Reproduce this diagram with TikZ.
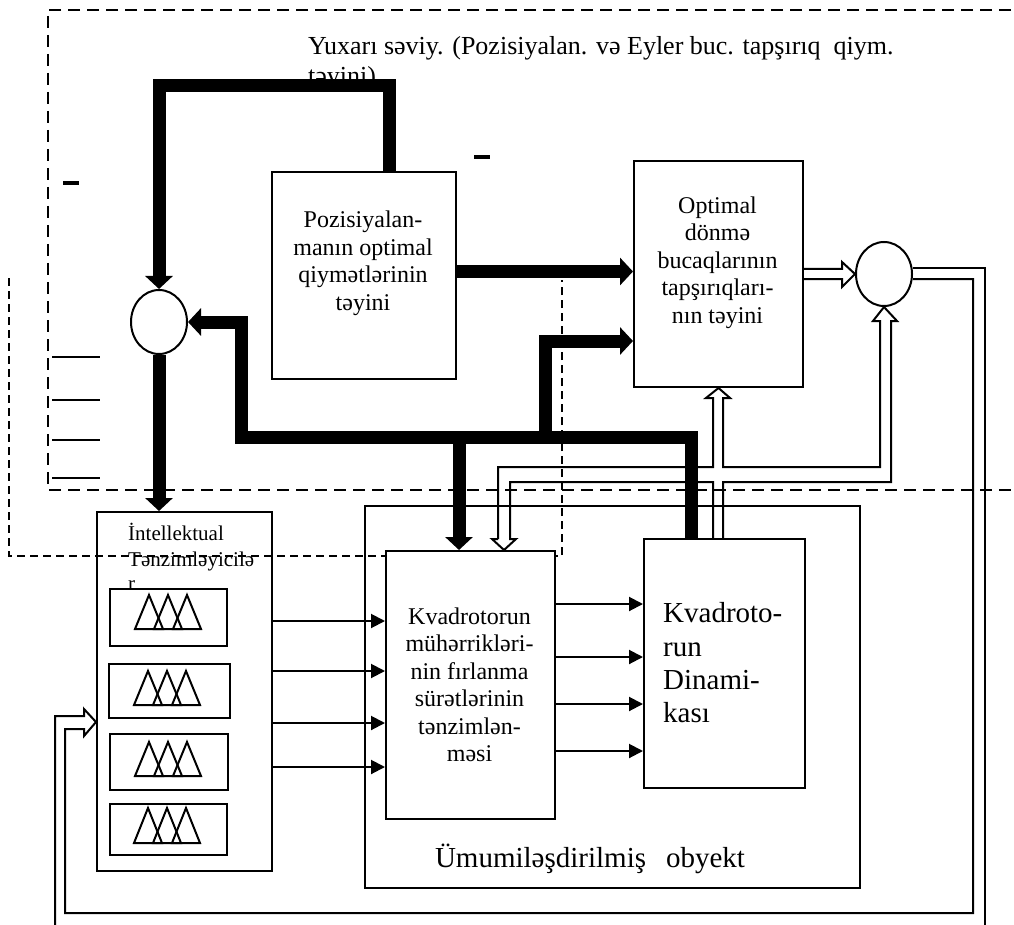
\documentclass[tikz,border=0pt]{standalone}
\usepackage{fontspec}
\setmainfont{Liberation Serif}
\usetikzlibrary{arrows.meta,shapes.geometric}
\begin{document}
\begin{tikzpicture}[x=1pt,y=-1pt,
  box/.style={draw,line width=2pt,inner sep=0pt,anchor=north west},
  wbox/.style={box,fill=white},
  lbl/.style={inner sep=0pt,align=center,font=\fontsize{24}{27.5}\selectfont},
  biglbl/.style={inner sep=0pt,align=left,font=\fontsize{29}{33.3}\selectfont},
  sumc/.style={draw,ellipse,line width=2pt,minimum width=56pt,minimum height=64pt,inner sep=0pt},
  thk/.style={line width=13pt,line join=miter,-{Triangle[length=13pt,width=27pt]}},
  thinarr/.style={line width=2pt,-{Triangle[length=14pt,width=14pt]}},
  hol/.style={line width=2pt,line join=miter},
  plain/.style={line width=2pt},
  signmark/.style={line width=4pt},
  bigdash/.style={line width=2pt,dash pattern=on 12pt off 7pt},
  smalldash/.style={line width=1.5pt,dash pattern=on 8pt off 5pt},
]
\useasboundingbox (0,0) rectangle (1014,925);

% dashed frames
\draw[bigdash] (1030,10) -- (48,10) -- (48,490) -- (1030,490);
\draw[smalldash] (9,278) -- (9,556) -- (562,556) -- (562,280);

% short lines at left
\foreach \yy in {357,400,440,478} \draw[plain] (52,\yy) -- (100,\yy);
\draw[signmark] (63,183) -- (79,183);
\draw[signmark] (474,157) -- (490,157);

% title
\node[anchor=base west,inner sep=0pt,font=\fontsize{26}{30}\selectfont] (t1) at (308,55) {Yuxarı səviy. (Pozisiyalan. və Eyler buc. tapşırıq\ \ qiym.};
\node[anchor=base west,inner sep=0pt,font=\fontsize{26}{30}\selectfont] (t2) at (308,85) {təyini)};

% boxes
\node[box,minimum width=184pt,minimum height=207pt] (pos) at (271,171) {};
\node[lbl] (posT) at (363,263.5) {Pozisiyalan-\\manın optimal\\qiymətlərinin\\təyini};
\node[box,minimum width=169pt,minimum height=226pt] (opt) at (633,160) {};
\node[lbl] (optT) at (717.5,262.5) {Optimal\\dönmə\\bucaqlarının\\tapşırıqları-\\nın təyini};

\node[box,minimum width=495pt,minimum height=382pt] (obj) at (364,505) {};
\node[anchor=base,inner sep=0pt,font=\fontsize{29}{33}\selectfont] (objT) at (590,867) {Ümumiləşdirilmiş\hspace{20pt}obyekt};

\node[wbox,minimum width=169pt,minimum height=268pt] (motor) at (385,550) {};
\node[lbl] (motorT) at (469.5,685) {Kvadrotorun\\mühərrikləri-\\nin fırlanma\\sürətlərinin\\tənzimlən-\\məsi};
\node[box,minimum width=161pt,minimum height=249pt] (dyn) at (643,538) {};
\node[biglbl,anchor=west] (dynT) at (663,663) {Kvadroto-\\run\\Dinami-\\kası};

\node[box,minimum width=175pt,minimum height=359pt] (intel) at (96,511) {};
\node[anchor=base west,inner sep=0pt,font=\fontsize{21}{25}\selectfont] (intT1) at (128,540) {İntellektual};
\node[anchor=base west,inner sep=0pt,font=\fontsize{21}{25}\selectfont] (intT2) at (128,566) {Tənzimləyicilə};
\node[anchor=base west,inner sep=0pt,font=\fontsize{21}{25}\selectfont] (intT3) at (128,590) {r};

\node[box,minimum width=117pt,minimum height=57pt] (fz1) at (109,588) {};
\node[box,minimum width=121pt,minimum height=54pt] (fz2) at (108,663) {};
\node[box,minimum width=118pt,minimum height=56pt] (fz3) at (109,733) {};
\node[box,minimum width=117pt,minimum height=51pt] (fz4) at (109,803) {};
\foreach \cx/\ya/\yb in {168/595/629, 167/671/705, 168/742/776, 167/808/843} {
  \foreach \dx in {-19,0,19}
    \draw[hol] (\cx+\dx-14,\yb) -- (\cx+\dx,\ya) -- (\cx+\dx+14,\yb) -- cycle;
  \draw[plain] (\cx-33,\yb) -- (\cx+33,\yb);
}

% summing circles
\node[sumc] (cL) at (159,322) {};
\node[sumc] (cR) at (884,274) {};

% thick connectors
\draw[thk] ([xshift=25pt]pos.north) |- (cL.north |- 0,86) -- (cL.north);
\draw[thk] (pos.east |- 0,271.5) -- (opt.west |- 0,271.5);
\coordinate (busL) at (241,437);
\coordinate (bus1) at (459,437);
\coordinate (bus2) at (545,437);
\draw[thk] ([xshift=48pt]dyn.north west) |- (busL) |- (cL.east);
\draw[thk] (bus1) -- (motor.north -| bus1);
\draw[thk] (bus2) |- (opt.west |- 0,341);
\draw[thk] (cL.south) -- (cL.south |- intel.north);

% thin arrows
\foreach \yy in {621,671,723,767} \draw[thinarr] (intel.east |- 0,\yy) -- (motor.west |- 0,\yy);
\foreach \yy in {604,657,704,751} \draw[thinarr] (motor.east |- 0,\yy) -- (dyn.west |- 0,\yy);

% hollow arrows
\draw[hol] (opt.east |- 0,269) -- (842,269) -- (842,262) -- (cR.west) -- (842,287) -- (842,279) -- (opt.east |- 0,279);
\draw[hol] (498,539) -- (498,467) -- (713,467) -- (713,398) -- (706,398) -- (opt.south) -- (730,398) -- (723,398)
  -- (723,467) -- (880,467) -- (880,321) -- (873,321) -- (cR.south) -- (897,321) -- (891,321)
  -- (891,482) -- (723,482) -- (dyn.north -| 723,0);
\draw[hol] (dyn.north -| 713,0) -- (713,482) -- (510,482) -- (510,539) -- (516,539) -- (motor.north -| 504,0) -- (492,539) -- (498,539);
\draw[hol] ([yshift=6pt]cR.east) -- (985,268) -- (985,935);
\draw[hol] ([yshift=-5pt]cR.east) -- (973,279) -- (973,913) -- (65,913) -- (65,729) -- (84,729) -- (84,736)
  -- (intel.west |- 0,722) -- (84,709) -- (84,716) -- (55,716) -- (55,935);
\end{tikzpicture}
\end{document}
